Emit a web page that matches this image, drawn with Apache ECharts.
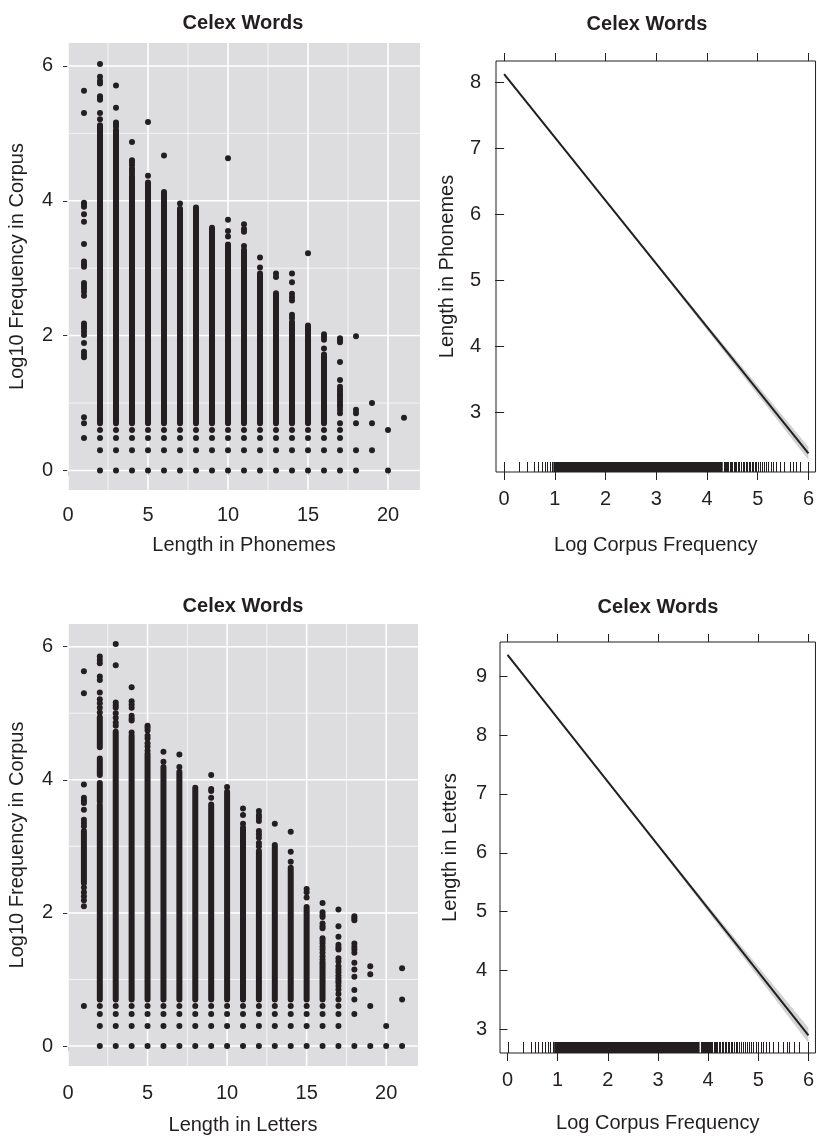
<!DOCTYPE html>
<html><head><meta charset="utf-8">
<script src="https://cdn.jsdelivr.net/npm/echarts@6/dist/echarts.min.js"></script>
<style>html,body{margin:0;padding:0;background:#fff}#c{width:817px;height:1136px}</style>
</head><body><div id="c"></div>
<script>
const FONT = "'Liberation Sans', Arial, Helvetica, sans-serif";
const INK = '#231f20';

// ---------- shared x categories for the scatter panels ----------
const lengthValues = [1,2,3,4,5,6,7,8,9,10,11,12,13,14,15,16,17,18,19,20,21];

// ---------- Panel A: Length in Phonemes vs Log10 frequency ----------
const phonemeSinglePoints = [
  [5.63,5.30,3.97,3.94,3.91,3.80,3.69,3.36,3.10,3.06,3.02,2.78,2.74,2.70,2.65,2.59,2.18,2.14,2.11,2.06,2.01,1.89,1.76,1.72,1.68,0.79,0.70,0.48],
  [6.03,5.84,5.78,5.74,5.55,5.52,5.50,5.30,5.21,0.60,0.48,0.30,0],
  [5.71,5.38,5.16,5.13,5.10,0.60,0.48,0.30,0],
  [4.87,4.60,4.57,4.53,4.48,4.44,4.40,4.36,0.60,0.48,0.30,0],
  [5.17,4.37,0.60,0.48,0.30,0],
  [4.67,0.60,0.48,0.30,0],
  [3.96,0.60,0.48,0.30,0],
  [0.60,0.48,0.30,0],
  [0.60,0.48,0.30,0],
  [4.63,3.72,3.55,3.47,0.60,0.48,0.30,0],
  [3.65,3.58,3.54,3.33,0.60,0.48,0.30,0],
  [3.16,3.01,0.60,0.48,0.30,0],
  [2.92,2.87,0.60,0.48,0.30,0],
  [2.92,2.79,2.62,2.57,2.52,2.31,2.26,0.60,0.48,0.30,0],
  [3.22,0.60,0.48,0.30,0],
  [2.02,1.98,1.94,1.81,0.60,0.48,0.30,0],
  [1.96,1.93,1.90,1.61,1.34,1.24,1.20,1.17,1.13,1.10,1.06,1.02,0.98,0.95,0.90,0.85,0.70,0.60,0.48,0.30,0],
  [1.99,0.90,0.85,0.70,0.30,0],
  [1.00,0.70,0.30],
  [0.60,0],
  [0.78]
];
const phonemeDenseRanges = [
  [], [[0.70,5.12]], [[0.70,5.05]], [[0.70,4.33]], [[0.70,4.27]], [[0.70,4.13]],
  [[0.70,3.88]], [[0.70,3.90]], [[0.70,3.60]], [[0.70,3.35]], [[0.70,3.27]],
  [[0.70,2.92]], [[0.70,2.63]], [[0.70,2.20]], [[0.70,2.15]], [[0.70,1.72]],
  [], [], [], [], []
];

// ---------- Panel C: Length in Letters vs Log10 frequency ----------
const letterSinglePoints = [
  [5.63,5.30,3.93,3.73,3.69,3.65,3.55,3.40,3.35,3.30,2.38,2.31,2.25,2.19,2.10,0.60],
  [5.85,5.80,5.75,5.55,5.50,5.31,5.21,5.15,5.08,5.01,0.60,0.48,0.30,0],
  [6.04,5.72,5.16,5.12,5.08,5.00,4.93,4.86,4.81,0.60,0.48,0.30,0],
  [5.39,5.18,5.13,5.08,4.96,4.92,4.89,4.71,0.60,0.48,0.30,0],
  [4.81,4.78,4.74,4.66,4.62,4.55,4.50,4.44,0.60,0.48,0.30,0],
  [4.42,4.27,0.60,0.48,0.30,0],
  [4.38,4.19,0.60,0.48,0.30,0],
  [0.60,0.48,0.30,0],
  [4.07,3.86,3.83,3.73,0.60,0.48,0.30,0],
  [3.89,0.60,0.48,0.30,0],
  [3.57,3.47,3.34,0.60,0.48,0.30,0],
  [3.53,3.47,3.43,3.38,3.23,3.18,3.13,3.05,3.00,0.60,0.48,0.30,0],
  [3.34,0.60,0.48,0.30,0],
  [3.22,2.92,2.77,0.60,0.48,0.30,0],
  [2.36,2.31,2.23,0.60,0.48,0.30,0],
  [2.15,2.01,1.97,1.94,1.84,1.80,1.77,1.62,1.58,1.54,1.49,1.45,1.40,1.35,1.30,0.60,0.48,0.30,0],
  [2.05,1.80,1.64,1.52,1.48,1.45,1.32,1.27,1.20,1.15,1.11,1.06,1.02,0.98,0.95,0.90,0.85,0.78,0.70,0.60,0.48,0.30,0],
  [1.95,1.92,1.89,1.54,1.49,1.45,1.40,1.25,1.15,1.04,0.84,0.70,0.48,0],
  [1.20,1.08,0.60,0],
  [0.30,0],
  [1.17,0.70,0]
];
const letterDenseRanges = [
  [[2.45,3.23]], [[0.70,3.62],[3.67,3.95],[4.07,4.32],[4.49,4.94]], [[0.70,4.72]],
  [[0.70,4.66]], [[0.70,4.39]], [[0.70,4.19]], [[0.70,4.12]], [[0.70,3.88]],
  [[0.70,3.63]], [[0.70,3.82]], [[0.70,3.28]], [[0.70,2.93]], [[0.70,3.02]],
  [[0.70,2.68]], [[0.70,2.09]], [[0.70,1.26]], [], [], [], [], []
];

// ---------- ggplot-style grid breaks ----------
const lenMajorBreaks = [0,5,10,15,20];
const lenMinorBreaks = [2.5,7.5,12.5,17.5];
const freqMajorBreaks = [0,2,4,6];
const freqMinorBreaks = [1,3,5];

// ---------- Panel B: fitted Length in Phonemes vs Log corpus frequency ----------
const phonFitX = [0, 6];
const phonFitY = [8.12, 2.38];
const phonBandX = [0,1,2,3,4,5,6];
const phonBandLow  = [8.10,7.15,6.20,5.23,4.25,3.27,2.28];
const phonBandHigh = [8.14,7.17,6.22,5.27,4.33,3.41,2.48];
const phonRugTicks = [0,0.30,0.46,0.59,0.67,0.75,0.80,0.85,0.90,0.94,
  4.33,4.35,4.37,4.40,4.42,4.45,4.47,4.50,4.53,4.55,4.58,4.61,4.64,4.67,4.70,4.73,4.76,4.79,4.82,4.85,4.88,
  4.91,4.94,4.97,5.01,5.05,5.09,5.13,5.17,5.21,5.26,5.31,5.36,5.43,5.52,5.63,5.69,5.76,5.84,6.00];
const phonRugSolid = [[0.97, 4.31]];

// ---------- Panel D: fitted Length in Letters vs Log corpus frequency ----------
const letFitX = [0, 6];
const letFitY = [9.36, 2.90];
const letBandX = [0,1,2,3,4,5,6];
const letBandLow  = [9.34,8.27,7.20,6.11,5.00,3.89,2.77];
const letBandHigh = [9.38,8.29,7.22,6.15,5.10,4.07,3.03];
const letRugTicks = [0,0.30,0.46,0.54,0.61,0.68,0.74,0.80,0.84,0.90,
  3.85,3.87,3.89,3.91,3.93,3.95,3.97,3.99,4.01,4.04,4.06,4.08,4.11,4.13,4.16,4.18,4.21,4.24,4.27,4.30,4.33,4.36,4.39,4.42,4.45,4.48,4.52,4.55,
  4.58,4.62,4.66,4.70,4.74,4.78,4.82,4.86,4.90,4.95,5.00,5.05,5.10,5.15,5.22,5.29,5.39,5.50,5.57,5.62,5.72,5.81,6.00];
const letRugSolid = [[0.93, 3.83]];

const freqTicks = [0,1,2,3,4,5,6];

// ---------- builders ----------
function pointData(pts){ const out=[]; lengthValues.forEach((x,i)=>pts[i].forEach(y=>out.push([x,y]))); return out; }
function denseData(r){ const out=[]; lengthValues.forEach((x,i)=>r[i].forEach(a=>out.push([x,a[0],a[1]]))); return out; }
function gridLineData(){
  return [].concat(
    lenMajorBreaks.map(v=>[v,0,1]), lenMinorBreaks.map(v=>[v,0,0]),
    freqMajorBreaks.map(v=>[v,1,1]), freqMinorBreaks.map(v=>[v,1,0]));
}
function renderGridLine(params, api){
  const cs = params.coordSys;
  const v = api.value(0), horiz = api.value(1) === 1, major = api.value(2) === 1;
  const w = major ? 1.5 : 0.7;
  if (horiz){
    const y = api.coord([0, v])[1];
    return {type:'line', shape:{x1:cs.x,y1:y,x2:cs.x+cs.width,y2:y}, style:{stroke:'#ffffff',lineWidth:w}};
  }
  const x = api.coord([v, 0])[0];
  return {type:'line', shape:{x1:x,y1:cs.y,x2:x,y2:cs.y+cs.height}, style:{stroke:'#ffffff',lineWidth:w}};
}
function renderCapsule(params, api){
  const a = api.coord([api.value(0), api.value(1)]);
  const b = api.coord([api.value(0), api.value(2)]);
  const r = 3;
  return {type:'rect', shape:{x:a[0]-r, y:b[1]-r, width:2*r, height:a[1]-b[1]+2*r, r:r}, style:{fill:INK}};
}
function makeRugTick(h){
  return function(params, api){
    const cs = params.coordSys;
    const x = Math.round(api.coord([api.value(0), api.value(1)])[0]) + 0.5;
    const yb = cs.y + cs.height;
    return {type:'line', shape:{x1:x,y1:yb,x2:x,y2:yb-h}, style:{stroke:INK,lineWidth:1}};
  };
}
function makeRugSolid(h){
  return function(params, api){
    const cs = params.coordSys;
    const x0 = api.coord([api.value(0), api.value(1)])[0];
    const x1 = api.coord([api.value(2), api.value(1)])[0];
    const yb = cs.y + cs.height;
    return {type:'rect', shape:{x:x0,y:yb-h,width:x1-x0,height:h}, style:{fill:INK}};
  };
}
function makeBand(xs, lo, hi){
  return function(params, api){
    if (params.dataIndex !== 0) return {type:'group', children:[]};
    const pts = [];
    for (let i=0;i<xs.length;i++) pts.push(api.coord([xs[i], lo[i]]));
    for (let i=xs.length-1;i>=0;i--) pts.push(api.coord([xs[i], hi[i]]));
    return {type:'polygon', shape:{points:pts}, style:{fill:'#d2d2d2'}};
  };
}

// ---------- axes helpers ----------
const nameStyle = {fontFamily:FONT, fontSize:20, color:INK};
function ggX(gridIndex, name, gap, margin){
  return {type:'value', gridIndex, min:0, max:22, name, nameLocation:'middle', nameGap:gap, nameTextStyle:nameStyle,
    axisLine:{show:false}, splitLine:{show:false},
    axisTick:{show:true, length:5, customValues:lenMajorBreaks, lineStyle:{color:'#333333',width:1}},
    axisLabel:{customValues:lenMajorBreaks, margin, fontFamily:FONT, fontSize:20, color:INK}};
}
function ggY(gridIndex, name, min, max){
  return {type:'value', gridIndex, min, max, name, nameLocation:'middle', nameGap:41, nameTextStyle:nameStyle,
    axisLine:{show:false}, splitLine:{show:false},
    axisTick:{show:true, length:5, customValues:freqMajorBreaks, lineStyle:{color:'#333333',width:1}},
    axisLabel:{customValues:freqMajorBreaks, margin:15, fontFamily:FONT, fontSize:20, color:INK}};
}
function ltX(gridIndex, pos, min, max, name, gap){
  const a = {type:'value', gridIndex, position:pos, min, max,
    axisLine:{show:false}, splitLine:{show:false},
    axisTick:{show:true, length:8, customValues:freqTicks, lineStyle:{color:INK,width:1}},
    axisLabel:{show:pos==='bottom', customValues:freqTicks, margin:17, fontFamily:FONT, fontSize:20, color:INK}};
  if (name){ a.name=name; a.nameLocation='middle'; a.nameGap=gap; a.nameTextStyle=nameStyle; }
  return a;
}
function ltY(gridIndex, min, max, ticks, name, gap, margin, tl){
  return {type:'value', gridIndex, min, max, name, nameLocation:'middle', nameGap:gap, nameTextStyle:nameStyle,
    axisLine:{show:false}, splitLine:{show:false},
    axisTick:{show:true, length:tl, customValues:ticks, lineStyle:{color:INK,width:1}},
    axisLabel:{customValues:ticks, margin, fontFamily:FONT, fontSize:20, color:INK}};
}

const chart = echarts.init(document.getElementById('c'), null, {renderer:'canvas'});
const titleStyle = (x,y)=>({type:'text', x, y, style:{text:'Celex Words', fontFamily:FONT, fontSize:20, fontWeight:'bold', fill:INK, textAlign:'center', textVerticalAlign:'middle'}});

chart.setOption({
  animation:false,
  backgroundColor:'#ffffff',
  graphic:[ titleStyle(243,23), titleStyle(647,24), titleStyle(243,606), titleStyle(658,607) ],
  grid:[
    {left:68, top:43, width:352, height:447, show:true, backgroundColor:'#dddddf', borderWidth:0},
    {left:496, top:61, width:320, height:411, show:true, backgroundColor:'transparent', borderColor:INK, borderWidth:1},
    {left:68, top:624, width:350, height:447, show:true, backgroundColor:'#dddddf', borderWidth:0},
    {left:500, top:642, width:316, height:411, show:true, backgroundColor:'transparent', borderColor:INK, borderWidth:1}
  ],
  xAxis:[
    ggX(0, 'Length in Phonemes', 45, 15),
    ltX(1, 'bottom', -0.16, 6.14, 'Log Corpus Frequency', 63),
    ltX(1, 'top', -0.16, 6.14),
    ggX(2, 'Length in Letters', 49, 17),
    ltX(3, 'bottom', -0.15, 6.14, 'Log Corpus Frequency', 60),
    ltX(3, 'top', -0.15, 6.14)
  ],
  yAxis:[
    ggY(0, 'Log10 Frequency in Corpus', -0.29, 6.34),
    ltY(1, 2.10, 8.32, [3,4,5,6,7,8], 'Length in Phonemes', 39, 15, 9),
    ggY(2, 'Log10 Frequency in Corpus', -0.30, 6.34),
    ltY(3, 2.60, 9.58, [3,4,5,6,7,8,9], 'Length in Letters', 40, 13, 8)
  ],
  series:[
    // Panel A
    {type:'custom', xAxisIndex:0, yAxisIndex:0, z:1, silent:true, renderItem:renderGridLine, data:gridLineData(), encode:{x:0,y:0}},
    {type:'custom', xAxisIndex:0, yAxisIndex:0, z:3, renderItem:renderCapsule, data:denseData(phonemeDenseRanges), encode:{x:0,y:[1,2]}},
    {type:'scatter', xAxisIndex:0, yAxisIndex:0, z:4, symbolSize:6, itemStyle:{color:INK, opacity:1}, data:pointData(phonemeSinglePoints)},
    // Panel B
    {type:'custom', xAxisIndex:1, yAxisIndex:1, z:2, renderItem:makeBand(phonBandX, phonBandLow, phonBandHigh), data:phonBandX.map((x,i)=>[x, phonBandLow[i]])},
    {type:'line', xAxisIndex:1, yAxisIndex:1, z:3, showSymbol:false, lineStyle:{color:INK,width:2}, data:phonFitX.map((x,i)=>[x, phonFitY[i]])},
    {type:'custom', xAxisIndex:1, yAxisIndex:1, z:3, renderItem:makeRugTick(10), data:phonRugTicks.map(v=>[v, 2.10])},
    {type:'custom', xAxisIndex:1, yAxisIndex:1, z:3, renderItem:makeRugSolid(10), data:phonRugSolid.map(r=>[r[0], 2.10, r[1]]), encode:{x:[0,2],y:1}},
    // Panel C
    {type:'custom', xAxisIndex:3, yAxisIndex:2, z:1, silent:true, renderItem:renderGridLine, data:gridLineData(), encode:{x:0,y:0}},
    {type:'custom', xAxisIndex:3, yAxisIndex:2, z:3, renderItem:renderCapsule, data:denseData(letterDenseRanges), encode:{x:0,y:[1,2]}},
    {type:'scatter', xAxisIndex:3, yAxisIndex:2, z:4, symbolSize:6, itemStyle:{color:INK, opacity:1}, data:pointData(letterSinglePoints)},
    // Panel D
    {type:'custom', xAxisIndex:4, yAxisIndex:3, z:2, renderItem:makeBand(letBandX, letBandLow, letBandHigh), data:letBandX.map((x,i)=>[x, letBandLow[i]])},
    {type:'line', xAxisIndex:4, yAxisIndex:3, z:3, showSymbol:false, lineStyle:{color:INK,width:2}, data:letFitX.map((x,i)=>[x, letFitY[i]])},
    {type:'custom', xAxisIndex:4, yAxisIndex:3, z:3, renderItem:makeRugTick(11), data:letRugTicks.map(v=>[v, 2.60])},
    {type:'custom', xAxisIndex:4, yAxisIndex:3, z:3, renderItem:makeRugSolid(11), data:letRugSolid.map(r=>[r[0], 2.60, r[1]]), encode:{x:[0,2],y:1}}
  ]
});
</script></body></html>
